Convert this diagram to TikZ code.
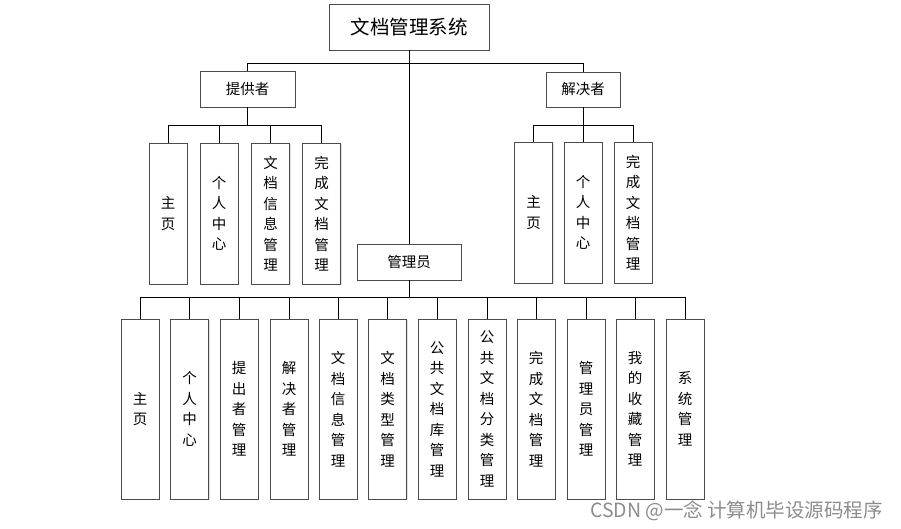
\documentclass[tikz,border=0pt]{standalone}
\usepackage{fontspec}
\setmainfont{Noto Sans CJK SC}
\usetikzlibrary{shadows}
\begin{document}
\begin{tikzpicture}[x=1pt,y=-1pt,
  box/.style={draw=black!70, line width=0.7pt, fill=white, inner sep=0pt, align=center,
    drop shadow={shadow xshift=1pt, shadow yshift=-1pt, fill=blue!30!black, opacity=0.12},
    font=\fontsize{14.5}{20.5}\selectfont},
  vbox/.style={box, minimum width=38pt, minimum height=141pt},
  mbox/.style={box, minimum width=38pt, minimum height=180pt},
  conn/.style={draw=black, line width=1pt}]
\useasboundingbox (0,0) rectangle (901,529);
% top
\node[box, minimum width=160pt, minimum height=46pt, font=\fontsize{19.5}{22}\selectfont] (root) at (409,27) {文档管理系统};
\node[box, minimum width=95pt, minimum height=36pt] (prov) at (247.5,89) {提供者};
\node[box, minimum width=74pt, minimum height=35pt] (solv) at (583,89.5) {解决者};
\node[box, minimum width=104pt, minimum height=36pt] (mgr) at (409,262) {管理员};
% provider children
\node[vbox] (p1) at (168,213.5) {主\\页};
\node[vbox] (p2) at (219,213.5) {个\\人\\中\\心};
\node[vbox] (p3) at (270.5,213.5) {文\\档\\信\\息\\管\\理};
\node[vbox] (p4) at (321.5,213.5) {完\\成\\文\\档\\管\\理};
% solver children
\node[vbox] (s1) at (533.5,212.5) {主\\页};
\node[vbox] (s2) at (583,212.5) {个\\人\\中\\心};
\node[vbox] (s3) at (633,212.5) {完\\成\\文\\档\\管\\理};
% manager children
\node[mbox] (m1) at (140,409) {主\\页};
\node[mbox] (m2) at (189.5,409) {个\\人\\中\\心};
\node[mbox] (m3) at (239,409) {提\\出\\者\\管\\理};
\node[mbox] (m4) at (289,409) {解\\决\\者\\管\\理};
\node[mbox] (m5) at (338,409) {文\\档\\信\\息\\管\\理};
\node[mbox] (m6) at (387.5,409) {文\\档\\类\\型\\管\\理};
\node[mbox] (m7) at (437,409) {公\\共\\文\\档\\库\\管\\理};
\node[mbox] (m8) at (487,409) {公\\共\\文\\档\\分\\类\\管\\理};
\node[mbox] (m9) at (536,409) {完\\成\\文\\档\\管\\理};
\node[mbox] (m10) at (586,409) {管\\理\\员\\管\\理};
\node[mbox] (m11) at (635,409) {我\\的\\收\\藏\\管\\理};
\node[mbox] (m12) at (685,409) {系\\统\\管\\理};
% connectors
\draw[conn] (root.south) -- (mgr.north);
\draw[conn] (root.south) -- ++(0,13) -| (prov.north);
\draw[conn] (root.south) -- ++(0,13) -| (solv.north);
\foreach \c in {p1,p2,p3,p4} \draw[conn] (prov.south) -- ++(0,18) -| (\c.north);
\foreach \c in {s1,s2,s3} \draw[conn] (solv.south) -- ++(0,18.5) -| (\c.north);
\foreach \c in {m1,m2,m3,m4,m5,m6,m7,m8,m9,m10,m11,m12} \draw[conn] (mgr.south) -- ++(0,17) -| (\c.north);
% watermark
\node[text=black!45, font=\fontsize{19.5}{21}\selectfont, inner sep=0pt] (wm) at (736.5,511) {CSDN @一念 计算机毕设源码程序};
\end{tikzpicture}
\end{document}
